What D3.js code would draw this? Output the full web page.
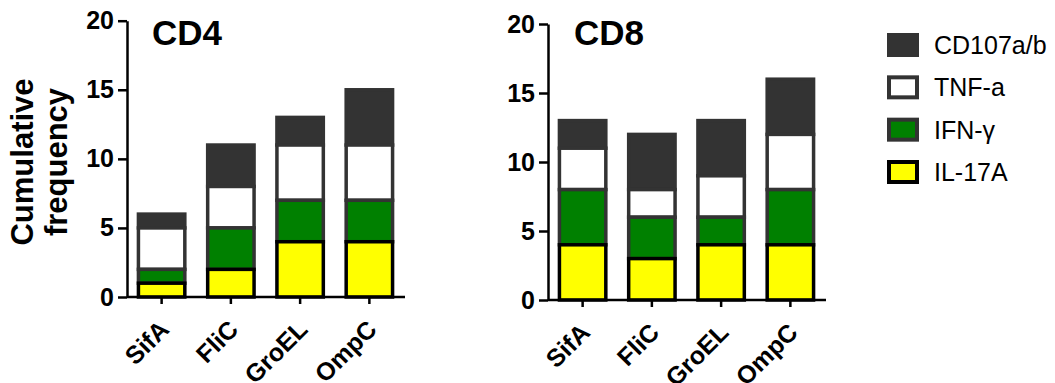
<!DOCTYPE html>
<html>
<head>
<meta charset="utf-8">
<script src="https://cdn.jsdelivr.net/npm/d3@7/dist/d3.min.js"></script>
<style>
  html, body { margin: 0; padding: 0; background: #fff; }
  svg { display: block; font-family: "Liberation Sans", Arial, sans-serif; }
</style>
</head>
<body>
<svg id="chart" width="1055" height="383"></svg>
<script>
// ---- Data ----
const categories = ["SifA", "FliC", "GroEL", "OmpC"];
const seriesNames = ["IL-17A", "IFN-γ", "TNF-a", "CD107a/b"]; // bottom -> top
const legendOrder = ["CD107a/b", "TNF-a", "IFN-γ", "IL-17A"];
const yTicks = [0, 5, 10, 15, 20];

// CD4 panel (segment heights)
const cd4IL17A = [1, 2, 4, 4];
const cd4IFNg  = [1, 3, 3, 3];
const cd4TNFa  = [3, 3, 4, 4];
const cd4CD107 = [1, 3, 2, 4];

// CD8 panel (segment heights)
const cd8IL17A = [4, 3, 4, 4];
const cd8IFNg  = [4, 3, 2, 4];
const cd8TNFa  = [3, 2, 3, 4];
const cd8CD107 = [2, 4, 4, 4];

// ---- Styles ----
const fillColor = {"IL-17A": "#ffff00", "IFN-γ": "#008000", "TNF-a": "#ffffff", "CD107a/b": "#333333"};
const strokeColor = {"IL-17A": "#000000", "IFN-γ": "#333333", "TNF-a": "#333333", "CD107a/b": "#333333"};

function buildRows(il, ifn, tnf, cd) {
  return categories.map((c, i) => ({
    cat: c, "IL-17A": il[i], "IFN-γ": ifn[i], "TNF-a": tnf[i], "CD107a/b": cd[i]
  }));
}

const panels = [
  {title: "CD4", rows: buildRows(cd4IL17A, cd4IFNg, cd4TNFa, cd4CD107),
   x0: 127, x1: 404, yBottom: 297, yTop: 20.7, titleX: 152},
  {title: "CD8", rows: buildRows(cd8IL17A, cd8IFNg, cd8TNFa, cd8CD107),
   x0: 548, x1: 825, yBottom: 300, yTop: 24, titleX: 574}
];

const svg = d3.select("#chart");

panels.forEach(p => {
  const x = d3.scaleBand().domain(categories).range([p.x0, p.x1])
    .paddingInner(0.33).paddingOuter(0.165);
  const y = d3.scaleLinear().domain([0, 20]).range([p.yBottom, p.yTop]);
  const stack = d3.stack().keys(seriesNames);
  const layers = stack(p.rows);

  const g = svg.append("g");

  // draw top series first so IL-17A sits on top
  layers.slice().reverse().forEach(layer => {
    g.append("g").selectAll("rect").data(layer).join("rect")
      .attr("x", d => x(d.data.cat))
      .attr("width", x.bandwidth())
      .attr("y", d => y(d[1]))
      .attr("height", d => y(d[0]) - y(d[1]))
      .attr("fill", fillColor[layer.key])
      .attr("stroke", strokeColor[layer.key])
      .attr("stroke-width", 3.5);
  });

  // y axis
  const ya = g.append("g").attr("transform", `translate(${p.x0},0)`)
    .call(d3.axisLeft(y).tickValues(yTicks).tickSize(9).tickPadding(4).tickSizeOuter(0));
  ya.select(".domain").attr("stroke", "#000").attr("stroke-width", 2.5);
  ya.selectAll(".tick line").attr("stroke", "#000").attr("stroke-width", 2.5);
  ya.selectAll(".tick text").attr("font-size", 25).attr("font-weight", "bold")
    .attr("fill", "#000").attr("font-family", "'Liberation Sans', Arial, sans-serif");

  // x axis
  const xa = g.append("g").attr("transform", `translate(0,${p.yBottom})`)
    .call(d3.axisBottom(x).tickSize(7).tickSizeOuter(0));
  xa.select(".domain").attr("stroke", "#000").attr("stroke-width", 2.5)
    .attr("d", `M${p.x0},0H${p.x1 + 1}`);
  xa.selectAll(".tick line").attr("stroke", "#000").attr("stroke-width", 2.5);
  xa.selectAll(".tick text")
    .attr("font-size", 25).attr("font-weight", "bold").attr("fill", "#000")
    .attr("font-family", "'Liberation Sans', Arial, sans-serif")
    .attr("text-anchor", "end")
    .attr("dy", null).attr("y", null)
    .attr("transform", "translate(9,34) rotate(-45)");

  // title
  g.append("text").attr("x", p.titleX).attr("y", 45)
    .attr("font-size", 35).attr("font-weight", "bold").text(p.title);
});

// y axis label
const yl = svg.append("text")
  .attr("transform", "translate(0,162) rotate(-90)")
  .attr("text-anchor", "middle").attr("font-size", 31).attr("font-weight", "bold");
yl.append("tspan").attr("x", 0).attr("y", 33).text("Cumulative");
yl.append("tspan").attr("x", 0).attr("y", 67).text("frequency");

// legend
const legY = d3.scalePoint().domain(legendOrder).range([45, 172]);
const leg = svg.append("g");
legendOrder.forEach(k => {
  const cy = legY(k);
  leg.append("rect")
    .attr("x", 889).attr("y", cy - 10).attr("width", 28).attr("height", 20)
    .attr("fill", fillColor[k])
    .attr("stroke", strokeColor[k])
    .attr("stroke-width", 4);
  leg.append("text").attr("x", 934).attr("y", cy + 9)
    .attr("font-size", 25).attr("fill", "#000").text(k);
});
</script>
</body>
</html>
